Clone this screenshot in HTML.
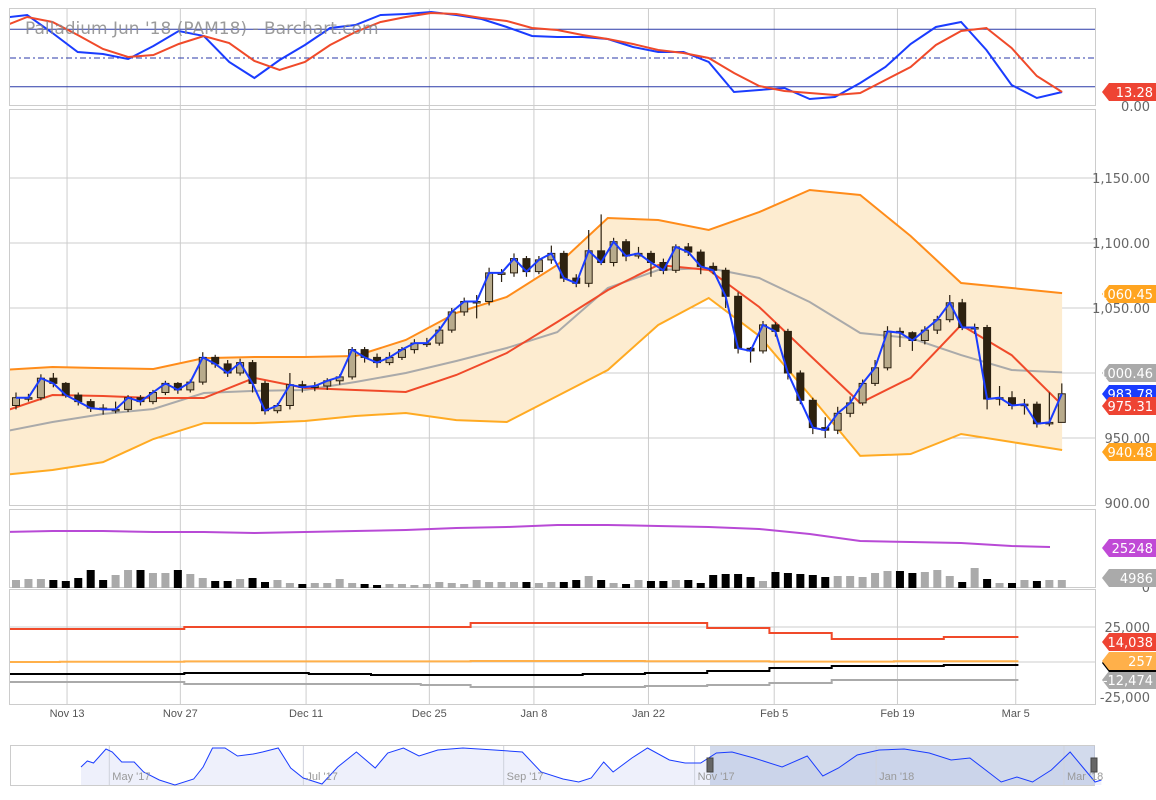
<!DOCTYPE html>
<html><head><meta charset="utf-8"><style>
html,body{margin:0;padding:0;background:#fff;}
svg{display:block;font-family:"DejaVu Sans","Liberation Sans",sans-serif;}
</style></head><body>
<svg id="c" width="1156" height="800" viewBox="0 0 1156 800" xmlns="http://www.w3.org/2000/svg"></svg>
<script>
// ---------- DATA ----------
const dateLabels = ["Nov 13","Nov 27","Dec 11","Dec 25","Jan 8","Jan 22","Feb 5","Feb 19","Mar 5"];
const dateIdx = [4.1,13.2,23.3,33.2,41.6,50.8,60.9,70.8,80.3];
const openP = [975,981,981,996,992,983,978,973,972,972,981,978,985,992,987,993,1012,1007,1000,1008,992,971,975,991,989,990,994,997,1018,1012,1008,1012,1018,1023,1023,1033,1047,1055,1055,1077,1077,1088,1078,1087,1092,1073,1069,1094,1085,1101,1090,1092,1085,1079,1097,1093,1082,1079,1059,1019,1017,1037,1032,1000,979,958,956,969,977,992,1004,1032,1031,1025,1033,1041,1054,1035,1035,980,981,975,976,961,962];
const closeP = [981,981,996,992,983,978,973,972,972,981,978,985,992,987,993,1012,1007,1000,1008,992,971,975,991,989,990,994,997,1018,1012,1008,1012,1018,1023,1023,1033,1047,1055,1055,1077,1077,1088,1078,1087,1092,1073,1069,1094,1085,1101,1090,1092,1085,1079,1097,1093,1082,1079,1059,1019,1017,1037,1032,1000,979,958,956,969,977,992,1004,1032,1031,1025,1033,1041,1054,1035,1035,980,981,975,976,961,962,984];
const highP = [985,984,999,1000,993,985,980,976,978,983,983,987,994,993,995,1016,1014,1010,1011,1010,994,977,1000,994,993,996,999,1020,1020,1015,1016,1020,1026,1027,1036,1050,1058,1060,1081,1080,1092,1090,1090,1098,1094,1076,1110,1122,1104,1103,1097,1094,1088,1099,1100,1095,1085,1081,1062,1020,1040,1039,1034,1002,981,966,974,982,995,1010,1036,1035,1032,1036,1044,1060,1057,1038,1037,990,986,980,978,985,992];
const lowP = [972,978,979,989,981,975,970,968,969,970,975,976,983,984,985,991,1004,997,998,985,968,969,972,985,986,987,991,995,1008,1004,1006,1010,1015,1020,1021,1031,1044,1042,1052,1070,1074,1074,1076,1084,1070,1066,1066,1083,1082,1086,1088,1074,1076,1077,1090,1076,1076,1050,1015,1008,1015,1028,995,976,953,950,953,966,975,990,1002,1020,1017,1022,1030,1039,1033,1030,972,975,972,968,958,959,967];
const volume = [4000,4500,4500,4000,3500,5000,9000,4000,6500,9000,9000,7500,7500,9000,7000,5000,3500,3500,4500,5000,3000,4000,2500,2000,2500,2500,4500,2500,2000,1500,2000,2000,1500,2000,3000,2500,2000,4000,3000,3000,3000,3000,2500,3000,3000,4000,6000,4000,2500,2000,4000,3500,3500,4000,4000,2500,6500,7000,7000,5500,3500,8000,7500,7000,6500,5500,6000,6000,5500,7500,8500,8500,7500,8000,9000,6000,3000,10000,4500,2500,2500,4000,3500,4000,4000];
const bandStep = 4;
const upperBand = [1002.3,1004.6,1003.8,1003.1,1011.5,1012.3,1012.3,1013.1,1025.4,1046.2,1058.5,1083.1,1119.2,1117.7,1110,1123.8,1140.8,1136.9,1105.4,1069.2,1065.4,1061.5];
const lowerBand = [921.5,925.4,931.5,949.2,961.5,961.5,963.1,966.9,969.2,963.8,962.3,982.3,1002.3,1036.9,1057.7,1028.5,983.1,936.2,937.7,953.1,946.9,940.8];
const grayMA = [954.6,962.3,968.5,972.3,984.6,986.2,986.9,993.1,1000,1009.2,1019.2,1031.5,1065.4,1079.2,1080.8,1073.1,1054.6,1030.8,1026.9,1013.8,1002.3,1000.5];
const redMA = [970,983.1,982.3,980.8,980.8,996.2,988.5,986.9,985.4,998.5,1015.4,1039.2,1063.8,1083.1,1079.2,1050.8,1013.8,976.9,996.2,1036.9,1013.8,975.3];
const openInterest = [34496,35112,35112,34496,34496,33880,34496,35112,35728,36960,37576,38808,38808,38192,37576,36344,33264,28952,28336,27720,25872,25256];
const stochStep = 2;
const stochK = [91.7,94.8,76,56.3,54.2,49,62.5,78.1,72.9,45.8,29.2,47.9,63.5,81.3,84.4,94.8,95.8,97.9,94.8,90.6,82.3,72.9,71.9,71.9,69.8,61.5,56.3,56.3,45.8,14.6,16.7,18.8,7.3,9.4,24,40.6,64.6,82.3,87.5,58.3,21.9,8.3,14.6];
const stochD = [82.3,92.7,87.5,74,59.4,51,53.1,64.6,72.9,65.6,46.9,37.5,45.8,63.5,77.1,87.5,92.7,96.9,95.8,91.7,88.5,81.3,79.2,74,69.8,64.6,58.3,55.2,50,34.4,20.8,15.6,13.5,11.5,13.5,27.1,40.6,63.5,78.1,81.3,60.4,31.3,14.6];
const weekStart = [-1,4,9,14,19,24,29,33,37,41,46,51,56,61,66,71,75,81];
const cotRed = [23562,23562,23562,24990,24990,24990,24990,24990,27846,27846,27846,27846,24276,20706,16422,16422,17850];
const cotOrange = [0,200,200,400,400,400,400,400,700,700,700,500,500,300,300,500,500];
const cotBlack = [-8568,-8568,-8568,-7854,-7854,-8568,-9282,-9282,-9282,-9282,-8568,-7854,-6426,-4284,-2856,-2856,-2142];
const cotGray = [-14280,-14280,-14280,-15708,-15708,-15708,-15708,-16422,-17850,-17850,-17850,-17136,-16422,-14994,-12852,-12852,-12852];
const navDay = [0,2,4,8,10,13,17,20,25,30,36,39,42,46,50,55,58,63,67,71,77,82,88,94,98,103,108,114,122,132,141,147,154,159,163,167,170,176,181,188,193,198,203,208,215,224,232,237,242,248,255,263,271,278,284,289,294,299,304,310,316,320,324,326];
const navVal = [18,24,22,36,33,23,23,13,5,0,6,18,37,37,29,31,33,37,17,7,1,18,33,17,32,37,29,35,37,35,33,13,6,3,7,23,13,27,37,25,22,22,32,33,27,18,29,9,17,30,35,36,32,25,27,15,3,8,3,15,33,18,3,5];
const navMonths = ["May '17","Jul '17","Sep '17","Nov '17","Jan '18","Mar '18"];
const navMonthDay = [10,72,136,197,255,315];

// ---------- SCALES ----------
const svg = document.getElementById('c');
const NS = 'http://www.w3.org/2000/svg';
const X = i => 16 + 12.45 * i;
const XL = i => 2 + 12.62 * i;
const yP = p => 243 - (p - 1100) * 1.3;
const yS = v => 106 - 0.96 * v;
const yV = v => 588 - v / 500;
const yOI = v => 588 - v / 616;
const yC = v => 662 - v / 714;
const xN = d => 81 + d * 3.13;
const yN = v => 785 - v;

function el(tag, attrs, parent) {
  const e = document.createElementNS(NS, tag);
  for (const k in attrs) e.setAttribute(k, attrs[k]);
  (parent || svg).appendChild(e);
  return e;
}
function txt(x, y, s, attrs, parent) {
  const t = el('text', Object.assign({x: x, y: y}, attrs), parent);
  t.textContent = s;
  return t;
}
function poly(pts) { return pts.map(p => p[0].toFixed(1) + ',' + p[1].toFixed(1)).join(' '); }

const defs = el('defs', {});
const cp = el('clipPath', {id: 'plot'}, defs);
el('rect', {x: 10, y: 0, width: 1085, height: 800}, cp);

// ---------- GRID & FRAMES ----------
const grid = el('g', {stroke: '#cccccc', 'stroke-width': 1, fill: 'none'});


dateIdx.forEach(i => el('line', {x1: X(i), x2: X(i), y1: 8, y2: 705}, grid));
[1150, 1100, 1050, 1000, 950].forEach(p => el('line', {x1: 10, x2: 1095, y1: yP(p), y2: yP(p)}, grid));
[25000, 0].forEach(v => el('line', {x1: 10, x2: 1095, y1: yC(v), y2: yC(v)}, grid));
el('rect', {x: 9.5, y: 8.5, width: 1086, height: 97}, grid);
el('rect', {x: 9.5, y: 109.5, width: 1086, height: 396}, grid);
el('rect', {x: 9.5, y: 509.5, width: 1086, height: 78}, grid);
el('rect', {x: 9.5, y: 589.5, width: 1086, height: 115}, grid);

// ---------- TOP STOCHASTIC ----------
const topG = el('g', {'clip-path': 'url(#plot)'});


el('line', {x1: 10, x2: 1095, y1: yS(80), y2: yS(80), stroke: '#2b3aa8', 'stroke-width': 1}, topG);
el('line', {x1: 10, x2: 1095, y1: yS(20), y2: yS(20), stroke: '#2b3aa8', 'stroke-width': 1}, topG);
el('line', {x1: 10, x2: 1095, y1: yS(50), y2: yS(50), stroke: '#2b3aa8', 'stroke-width': 1, 'stroke-dasharray': '6,3,2,3'}, topG);
const title = txt(25, 34, "Palladium Jun '18 (PAM18) - Barchart.com", {fill: '#8a8a8a', 'font-size': 17, 'fill-opacity': 0.85}, svg);


const sk = el('polyline', {points: poly(stochK.map((v, k) => [XL(k * stochStep), yS(v)])), fill: 'none', stroke: '#1a3cff', 'stroke-width': 2}, topG);


const sd = el('polyline', {points: poly(stochD.map((v, k) => [XL(k * stochStep), yS(v)])), fill: 'none', stroke: '#f04a2a', 'stroke-width': 2}, topG);



// ---------- PRICE PANEL ----------
const pr = el('g', {'clip-path': 'url(#plot)'});


const bx = k => XL(k * bandStep);
const upPts = upperBand.map((v, k) => [bx(k), yP(v)]);
const loPts = lowerBand.map((v, k) => [bx(k), yP(v)]);
const bandFill = el('polygon', {points: poly(upPts.concat(loPts.slice().reverse())), fill: '#fdecd0', stroke: 'none'}, pr);


const gm = el('polyline', {points: poly(grayMA.map((v, k) => [bx(k), yP(v)])), fill: 'none', stroke: '#aaaaaa', 'stroke-width': 2}, pr);


const ub = el('polyline', {points: poly(upPts), fill: 'none', stroke: '#ff8c1a', 'stroke-width': 2}, pr);


const lb = el('polyline', {points: poly(loPts), fill: 'none', stroke: '#ffaa22', 'stroke-width': 2}, pr);


const rm = el('polyline', {points: poly(redMA.map((v, k) => [bx(k), yP(v)])), fill: 'none', stroke: '#f04a2a', 'stroke-width': 2}, pr);


closeP.forEach((c, i) => {
  const o = openP[i], x = X(i), up = c >= o;
  const g = el('g', {}, pr);
  
  
  el('line', {x1: x, x2: x, y1: yP(highP[i]), y2: yP(lowP[i]), stroke: '#2b2010', 'stroke-width': 1.2}, g);
  const t = Math.min(yP(o), yP(c)), h = Math.max(1.5, Math.abs(yP(o) - yP(c)));
  el('rect', {x: x - 3.5, y: t, width: 7, height: h, fill: up ? '#b8ab8c' : '#2e2210', stroke: '#2b2010', 'stroke-width': 1}, g);
});
const cl = el('polyline', {points: poly(closeP.map((c, i) => [X(i), yP(c)])), fill: 'none', stroke: '#1a3cff', 'stroke-width': 2}, pr);



// ---------- VOLUME PANEL ----------
const vp = el('g', {'clip-path': 'url(#plot)'});


volume.forEach((v, i) => {
  const r = el('rect', {x: X(i) - 4, y: yV(v), width: 8, height: 588 - yV(v), fill: closeP[i] >= openP[i] ? '#aaaaaa' : '#000000'}, vp);
  
  
});
const oi = el('polyline', {points: poly(openInterest.map((v, k) => [Math.min(1050, bx(k)), yOI(v)])), fill: 'none', stroke: '#b84ad6', 'stroke-width': 2}, vp);



// ---------- BOTTOM (COT) PANEL ----------
const bp = el('g', {'clip-path': 'url(#plot)'});


function steps(arr, color, name) {
  const pts = [];
  arr.forEach((v, k) => {
    pts.push([X(weekStart[k]) - 6, yC(v)]);
    pts.push([X(weekStart[k + 1]) - 6, yC(v)]);
  });
  const p = el('polyline', {points: poly(pts), fill: 'none', stroke: color, 'stroke-width': 2}, bp);
  
  
}
steps(cotGray, '#aaaaaa', 'cot-gray-line');
steps(cotBlack, '#000000', 'cot-black-line');
steps(cotOrange, '#ffb04a', 'cot-orange-line');
steps(cotRed, '#f04a2a', 'cot-red-line');

// ---------- AXIS LABELS ----------
const ax = el('g', {fill: '#666', 'font-size': 13, 'text-anchor': 'end'});


txt(1150, 111, '0.00', {}, ax);
[[1150, '1,150.00'], [1100, '1,100.00'], [1050, '1,050.00'], [950, '950.00'], [900, '900.00']].forEach(a => txt(1150, yP(a[0]) + 5, a[1], {}, ax));
txt(1150, 592, '0', {}, ax);
txt(1150, 632, '25,000', {}, ax);
txt(1150, 702, '-25,000', {}, ax);
const dx = el('g', {fill: '#555', 'font-size': 11, 'text-anchor': 'middle', 'font-family': '"Liberation Sans Narrow","Liberation Sans",sans-serif'});


dateLabels.forEach((d, k) => txt(X(dateIdx[k]), 717, d, {}, dx));

function tag(y, color, s, name) {
  const g = el('g', {});
  
  
  const id = 'clip' + name;
  const c = el('clipPath', {id: id}, defs);
  const d = `M1109,${y - 9} L1156,${y - 9} L1156,${y + 9} L1109,${y + 9} L1102,${y} Z`;
  el('path', {d: d}, c);
  el('path', {d: d, fill: color}, g);
  txt(1153, y + 5, s, {fill: '#fff', 'font-size': 13, 'text-anchor': 'end', 'clip-path': `url(#${id})`}, g);
}
tag(92, '#ee4433', '13.28', 'stoch-tag');
tag(294, '#ffa420', '1060.45', 'upper-band-tag');
tag(373, '#aaaaaa', '1000.46', 'ma-gray-tag');
tag(394, '#1a3cff', '983.78', 'close-tag');
tag(406, '#ee4433', '975.31', 'ma-red-tag');
tag(452, '#ffa420', '940.48', 'lower-band-tag');
tag(548, '#c04ad6', '25248', 'open-interest-tag');
tag(578, '#aaaaaa', '4986', 'volume-tag');
tag(642, '#ee4433', '14,038', 'cot-red-tag');
tag(680, '#aaaaaa', '-12,474', 'cot-gray-tag');
tag(663, '#000000', '0', 'cot-black-tag');
tag(661, '#ffb04a', '257', 'cot-orange-tag');

// ---------- NAVIGATOR ----------
const nv = el('g', {});


el('rect', {x: 10.5, y: 745.5, width: 1084, height: 40, fill: '#fff', stroke: '#ccc'}, nv);
const navPts = navDay.map((d, k) => [xN(d), yN(navVal[k])]);
el('polygon', {points: poly([[xN(navDay[0]), 785]].concat(navPts, [[xN(navDay[navDay.length - 1]), 785]])), fill: '#eef0fb', stroke: 'none'}, nv);
const sel = el('rect', {x: 710, y: 746, width: 385, height: 39, fill: '#b4c1e0', 'fill-opacity': 0.6}, nv);


navMonthDay.forEach(d => el('line', {x1: xN(d) - 3, x2: xN(d) - 3, y1: 746, y2: 785, stroke: '#cfd2dc'}, nv));
el('polyline', {points: poly(navPts), fill: 'none', stroke: '#1a3cff', 'stroke-width': 1}, nv);
navMonths.forEach((m, k) => txt(xN(navMonthDay[k]), 780, m, {fill: '#999', 'font-size': 11, 'font-family': '"Liberation Sans Narrow","Liberation Sans",sans-serif'}, nv));
[710, 1094].forEach(x => {
  const h = el('rect', {x: x - 3, y: 758, width: 6, height: 14, fill: '#666', stroke: '#444'}, nv);
  
  
});
</script>
</body></html>
